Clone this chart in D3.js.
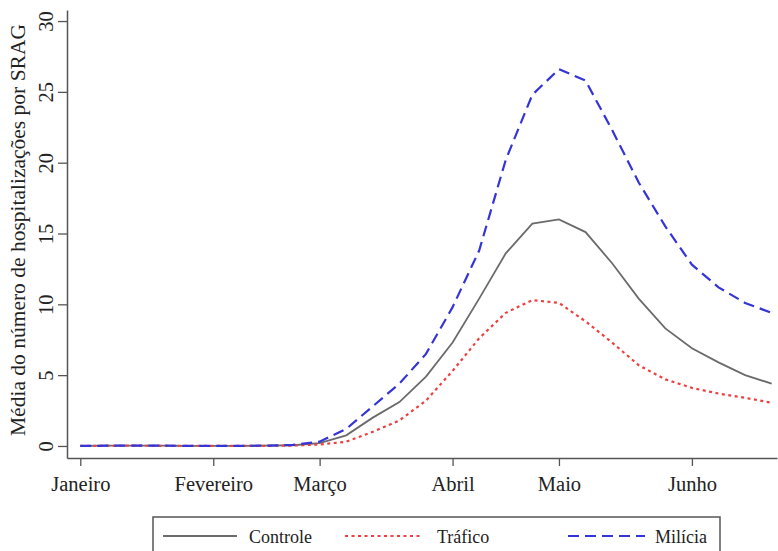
<!DOCTYPE html>
<html>
<head>
<meta charset="utf-8">
<script src="https://cdn.jsdelivr.net/npm/d3@7"></script>
<style>
  body { margin: 0; background: #fff; }
  text { font-family: "Liberation Serif", "DejaVu Serif", serif; fill: #222; }
</style>
</head>
<body>
<div id="chart"></div>
<script>
var width = 778;
var height = 551;

// weekly data (epidemiological week 1..27)
var weeks = d3.range(1, 28);
var controle = [0, 0.02, 0.03, 0.02, 0.01, 0.01, 0.01, 0.02, 0.05, 0.2, 0.75, 2.0, 3.1, 4.9, 7.3, 10.4, 13.6, 15.7, 16.0, 15.1, 12.9, 10.4, 8.3, 6.9, 5.9, 5.0, 4.4];
var trafico = [0, 0.01, 0.02, 0.01, 0, 0, 0, 0.01, 0.03, 0.1, 0.3, 1.0, 1.8, 3.2, 5.3, 7.6, 9.4, 10.3, 10.1, 8.8, 7.3, 5.7, 4.7, 4.1, 3.7, 3.4, 3.05];
var milicia = [0, 0.02, 0.03, 0.02, 0.01, 0.01, 0.01, 0.02, 0.08, 0.3, 1.2, 2.8, 4.4, 6.5, 9.8, 13.8, 20.2, 24.8, 26.6, 25.8, 22.3, 18.6, 15.5, 12.8, 11.2, 10.1, 9.4];

var monthWeeks = [1, 6, 10, 15, 19, 24];
var monthLabels = ["Janeiro", "Fevereiro", "Março", "Abril", "Maio", "Junho"];
var yTicks = [0, 5, 10, 15, 20, 25, 30];
var seriesNames = ["Controle", "Tráfico", "Milícia"];

var svg = d3.select("#chart")
  .append("svg")
  .attr("width", width)
  .attr("height", height);

var x = d3.scaleLinear().domain([0.5, 27.2]).range([67, 777]);
var y = d3.scaleLinear().domain([-0.85, 30.78]).range([458, 10]);

var axisColor = "#555";

// y axis
var yAxis = svg.append("g")
  .attr("transform", "translate(67,0)")
  .call(d3.axisLeft(y).tickValues(yTicks).tickSize(9).tickSizeOuter(0));
yAxis.select(".domain").attr("stroke", axisColor).attr("stroke-width", 1.5);
yAxis.selectAll(".tick line").attr("stroke", axisColor).attr("stroke-width", 1.3);
//rotated tick labels, baseline just left of the ticks
yAxis.selectAll(".tick text")
  .attr("x", 0).attr("y", -14).attr("dy", 0)
  .attr("transform", "rotate(-90)")
  .attr("text-anchor", "middle")
  .style("font-family", "Liberation Serif")
  .style("font-size", "20.5px")
  .attr("fill", "#222");

// x axis
var xAxis = svg.append("g")
  .attr("transform", "translate(0,458)")
  .call(d3.axisBottom(x).tickValues(monthWeeks).tickSize(8).tickSizeOuter(0)
    .tickFormat(function(d, i) { return monthLabels[i]; }));
xAxis.select(".domain").attr("stroke", axisColor).attr("stroke-width", 1.5);
xAxis.selectAll(".tick line").attr("stroke", axisColor).attr("stroke-width", 1.3);
xAxis.selectAll(".tick text")
  .attr("y", 33).attr("dy", 0)
  .style("font-family", "Liberation Serif")
  .style("font-size", "20.5px")
  .attr("fill", "#222");

// y axis title
svg.append("text")
  .attr("transform", "translate(25,230) rotate(-90)")
  .attr("text-anchor", "middle")
  .style("font-size", "21.5px")
  .text("Média do número de hospitalizações por SRAG");

// lines
var styles = [
  { data: controle, color: "#6b6b6b", width: 1.8, dash: null },
  { data: trafico, color: "#ee4040", width: 2.2, dash: "3,3.5" },
  { data: milicia, color: "#3434d8", width: 2.2, dash: "11,6" }
];

var line = d3.line()
  .x(function(d, i) { return x(weeks[i]); })
  .y(function(d) { return y(d); });

styles.forEach(function(s) {
  svg.append("path")
    .datum(s.data)
    .attr("fill", "none")
    .attr("stroke", s.color)
    .attr("stroke-width", s.width)
    .attr("stroke-dasharray", s.dash)
    .attr("d", line);
});

// legend
var legend = svg.append("g");
legend.append("rect")
  .attr("x", 153).attr("y", 517)
  .attr("width", 567).attr("height", 50)
  .attr("fill", "#fff")
  .attr("stroke", axisColor)
  .attr("stroke-width", 1.5);

var legendItems = [
  { x1: 163, x2: 237, tx: 249 },
  { x1: 345, x2: 422, tx: 437 },
  { x1: 568, x2: 645, tx: 655 }
];

legendItems.forEach(function(it, i) {
  legend.append("line")
    .attr("x1", it.x1).attr("x2", it.x2)
    .attr("y1", 536).attr("y2", 536)
    .attr("stroke", styles[i].color)
    .attr("stroke-width", styles[i].width)
    .attr("stroke-dasharray", styles[i].dash);
  legend.append("text")
    .attr("x", it.tx).attr("y", 543)
    .style("font-size", "18px")
    .text(seriesNames[i]);
});
</script>
</body>
</html>
